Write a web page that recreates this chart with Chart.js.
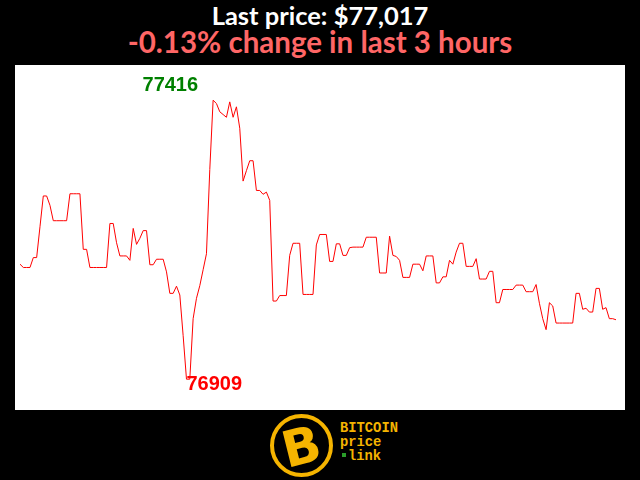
<!DOCTYPE html>
<html>
<head>
<meta charset="utf-8">
<script src="https://cdn.jsdelivr.net/npm/chart.js@4.4.1/dist/chart.umd.min.js"></script>
<style>
  html, body { margin:0; padding:0; background:#000; }
  body { width:640px; height:480px; position:relative; overflow:hidden; font-family: Lato, "Open Sans", sans-serif; }
  .title { position:absolute; left:0; width:640px; text-align:center; font-weight:bold; white-space:nowrap; }
  #t1 { top:0px; font-size:25.5px; color:#fff; }
  #t2 { top:24px; font-size:29.5px; color:#ff6666; }
  #plot { position:absolute; left:15px; top:65px; width:610px; height:345px; background:#fff; }
  #logo { position:absolute; left:270px; top:413px; width:140px; height:64px; }
  #coin { position:absolute; left:0; top:1px; width:55px; height:55px; border:4px solid #f5b400; border-radius:50%; }
  #coin span { position:absolute; left:0; top:0; width:55px; line-height:55px; text-align:center; font:bold 50px "DejaVu Sans", sans-serif; color:#f5b400; transform:rotate(-14deg); }
  #brand { position:absolute; left:70px; top:9px; font:bold 13.8px/14px "Liberation Mono", "DejaVu Sans Mono", monospace; color:#f5b400; }
  #brand i { display:inline-block; width:4px; height:4px; background:#2a9d2a; margin:0 2px 2px 2px; vertical-align:middle; }
</style>
</head>
<body>
<div class="title" id="t1">Last price: $77,017</div>
<div class="title" id="t2">-0.13% change in last 3 hours</div>
<div id="plot"><canvas id="c"></canvas></div>
<div id="logo">
  <div id="coin"><span>B</span></div>
  <div id="brand">BITCOIN<br>price<br><i></i>link</div>
</div>
<script>
// one price per minute, last 3 hours
const prices = [
  77118, 77112, 77112, 77112, 77130, 77130, 77186, 77242, 77242, 77225,
  77197, 77197, 77197, 77197, 77197, 77246, 77246, 77246, 77246, 77145,
  77145, 77112, 77112, 77112, 77112, 77112, 77112, 77192, 77192, 77157,
  77133, 77133, 77133, 77125, 77183, 77154, 77165, 77179, 77179, 77117,
  77117, 77127, 77127, 77127, 77104, 77065, 77065, 77078, 77062, 76988,
  76909, 76909, 77019, 77056, 77079, 77108, 77137, 77290, 77416, 77410,
  77395, 77390, 77385, 77413, 77385, 77404, 77365, 77269, 77288, 77306,
  77306, 77252, 77252, 77245, 77249, 77234, 77051, 77051, 77061, 77061,
  77061, 77134, 77156, 77156, 77156, 77063, 77063, 77063, 77063, 77153,
  77172, 77172, 77172, 77123, 77123, 77155, 77155, 77134, 77134, 77148,
  77149, 77149, 77149, 77149, 77167, 77167, 77167, 77167, 77102, 77102,
  77102, 77169, 77134, 77132, 77125, 77094, 77094, 77094, 77118, 77118,
  77118, 77106, 77133, 77133, 77133, 77084, 77084, 77095, 77095, 77125,
  77118, 77140, 77156, 77156, 77114, 77114, 77114, 77128, 77091, 77091,
  77091, 77105, 77105, 77048, 77048, 77072, 77072, 77072, 77072, 77080,
  77080, 77080, 77068, 77068, 77068, 77081, 77047, 77019, 76999, 77048,
  77042, 77011, 77011, 77011, 77011, 77011, 77011, 77065, 77065, 77036,
  77038, 77031, 77031, 77074, 77074, 77036, 77039, 77019, 77019, 77017
];
const minutes = prices.map((p, i) => String(i - prices.length + 1));
const yMin = 76853;
const yMax = 77480;

// high / low labels next to the extreme points
const extremes = {
  id: 'extremes',
  afterDatasetsDraw(chart) {
    const ctx = chart.ctx, x = chart.scales.x, y = chart.scales.y;
    const hi = Math.max(...prices), lo = Math.min(...prices);
    const hiI = prices.indexOf(hi), loI = prices.indexOf(lo);
    ctx.save();
    ctx.font = 'bold 20px "Liberation Sans", Arial, sans-serif';
    ctx.textBaseline = 'alphabetic';
    ctx.fillStyle = '#008000';
    ctx.textAlign = 'right';
    ctx.fillText(String(hi), x.getPixelForValue(hiI) - 15, y.getPixelForValue(hi) - 9);
    ctx.fillStyle = '#ff0000';
    ctx.textAlign = 'left';
    ctx.fillText(String(lo), x.getPixelForValue(loI), y.getPixelForValue(lo) + 11);
    ctx.restore();
  }
};

new Chart(document.getElementById('c'), {
  type: 'line',
  data: {
    labels: minutes,
    datasets: [{
      data: prices,
      borderColor: '#ff0000',
      borderWidth: 1,
      pointRadius: 0,
      tension: 0,
      fill: false
    }]
  },
  options: {
    responsive: true,
    maintainAspectRatio: false,
    animation: false,
    layout: { padding: { left: 5, right: 9, top: 0, bottom: 0 } },
    plugins: { legend: { display: false }, tooltip: { enabled: false } },
    scales: {
      x: { display: false },
      y: { display: false, min: yMin, max: yMax }
    }
  },
  plugins: [extremes]
});
</script>
</body>
</html>
